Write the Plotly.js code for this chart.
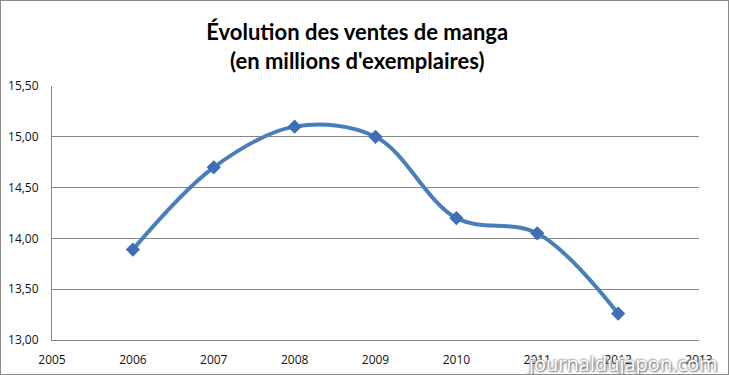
<!DOCTYPE html>
<html>
<head>
<meta charset="utf-8">
<script src="https://cdn.plot.ly/plotly-3.0.1.min.js"></script>
<style>
  html, body { margin: 0; padding: 0; background: #fff; }
  #chart { width: 727px; height: 373px; border: 1px solid #8a8a8a; }
</style>
</head>
<body>
<div id="chart"></div>
<script>
const years = [2006, 2007, 2008, 2009, 2010, 2011, 2012];
const sales = [13.89, 14.70, 15.10, 15.00, 14.20, 14.05, 13.26];
const titleLines = ["Évolution des ventes de manga", "(en millions d'exemplaires)"];
const watermark = "journaldujapon.com";

const trace = {
  x: years,
  y: sales,
  type: 'scatter',
  mode: 'lines+markers',
  line: { shape: 'spline', smoothing: 1, color: '#4a7ebb', width: 4 },
  marker: { symbol: 'diamond', size: 11, color: '#3d6fb6' },
  hoverinfo: 'x+y'
};

const axisFont = { family: 'Open Sans, sans-serif', size: 12, color: '#111' };

const layout = {
  width: 727,
  height: 373,
  margin: { l: 51, r: 29, t: 85, b: 34 },
  paper_bgcolor: '#fff',
  plot_bgcolor: '#fff',
  separators: ', ',
  showlegend: false,
  title: {
    text: titleLines.join('<br>'),
    font: { family: 'Lato, sans-serif', size: 22, color: '#000', weight: 'bold' },
    x: 0.49, xref: 'container', xanchor: 'center',
    y: 0.895, yref: 'container', yanchor: 'middle'
  },
  xaxis: {
    range: [2005, 2013],
    tickmode: 'linear', tick0: 2005, dtick: 1,
    showgrid: false, zeroline: false,
    showline: true, linecolor: '#868686', linewidth: 1,
    ticks: '', ticklabelstandoff: 9,
    tickfont: axisFont
  },
  yaxis: {
    range: [13, 15.5],
    tickmode: 'linear', tick0: 13, dtick: 0.5,
    tickformat: '.2f',
    showgrid: true, gridcolor: '#868686', gridwidth: 1,
    zeroline: false,
    showline: true, linecolor: '#868686', linewidth: 1,
    ticks: '', ticklabelstandoff: 10,
    tickfont: axisFont
  },
  annotations: [{
    text: watermark,
    xref: 'paper', yref: 'paper',
    x: 1.032, y: -0.093, xanchor: 'right', yanchor: 'middle',
    showarrow: false,
    font: { family: 'Open Sans, sans-serif', size: 20, color: '#ffffff', shadow: '1px 1px 2px #555, -1px -1px 2px #999' }
  }]
};

Plotly.newPlot('chart', [trace], layout, { displayModeBar: false, staticPlot: true });
</script>
</body>
</html>
